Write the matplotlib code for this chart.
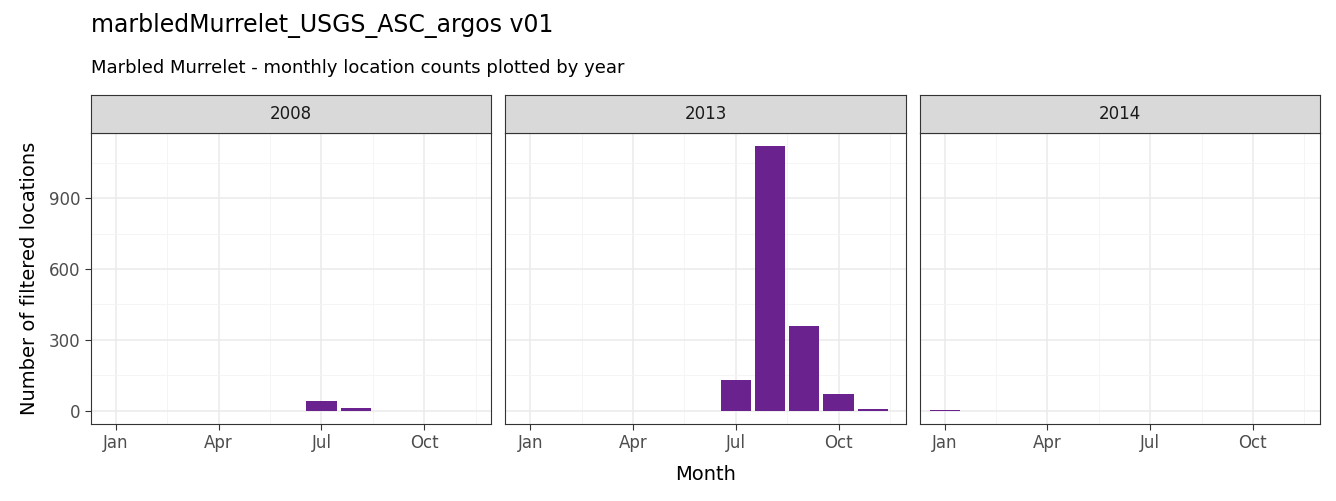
import matplotlib.pyplot as plt

years = ["2008", "2013", "2014"]
months = [1, 2, 3, 4, 5, 6, 7, 8, 9, 10, 11, 12]
counts = {
    "2008": [0, 0, 0, 0, 0, 0, 42, 12, 0, 0, 0, 0],
    "2013": [0, 0, 0, 0, 0, 0, 130, 1120, 360, 70, 8, 0],
    "2014": [3, 0, 0, 0, 0, 0, 0, 0, 0, 0, 0, 0],
}
tick_months = [1, 4, 7, 10]
tick_labels = ["Jan", "Apr", "Jul", "Oct"]
y_ticks = [0, 300, 600, 900]

fig = plt.figure(figsize=(13.36, 5.01), dpi=100)
left, right, bottom, top = 91 / 1336, 1320 / 1336, 1 - 424 / 501, 1 - 133 / 501
gap = 14 / 1336
w = (right - left - 2 * gap) / 3
strip_h = 38 / 501

for i, year in enumerate(years):
    x0 = left + i * (w + gap)
    ax = fig.add_axes([x0, bottom, w, top - bottom])
    vals = counts[year]
    ax.bar([m for m, v in zip(months, vals) if v > 0], [v for v in vals if v > 0],
           width=0.88, color="#6a228f", zorder=3)
    ax.set_xlim(0.27, 11.96)
    ax.set_ylim(-56, 1176)
    ax.set_xticks(tick_months)
    ax.set_xticklabels(tick_labels)
    ax.set_xticks([2.5, 5.5, 8.5, 11.5], minor=True)
    ax.set_yticks(y_ticks)
    ax.set_yticks([150, 450, 750, 1050], minor=True)
    ax.grid(which="major", color="#ebebeb", linewidth=1.1, zorder=0)
    ax.grid(which="minor", color="#f4f4f4", linewidth=0.6, zorder=0)
    ax.tick_params(which="minor", length=0)
    ax.tick_params(which="major", color="#333333", labelsize=12, labelcolor="#4d4d4d", length=4)
    if i > 0:
        ax.tick_params(axis="y", labelleft=False, length=0)
    for s in ax.spines.values():
        s.set_color("#333333")
    sax = fig.add_axes([x0, top, w, strip_h])
    sax.set_xticks([])
    sax.set_yticks([])
    sax.set_facecolor("#d9d9d9")
    for s in sax.spines.values():
        s.set_color("#333333")
    sax.text(0.5, 0.5, year, ha="center", va="center", fontsize=12, color="#1a1a1a")

fig.text(91 / 1336, 1 - 25 / 501, "marbledMurrelet_USGS_ASC_argos v01", fontsize=17, va="center")
fig.text(91 / 1336, 1 - 68 / 501, "Marbled Murrelet - monthly location counts plotted by year", fontsize=13, va="center")
fig.text((left + right) / 2, 1 - 474 / 501, "Month", fontsize=14, ha="center", va="center")
fig.text(30 / 1336, (bottom + top) / 2, "Number of filtered locations", fontsize=14, rotation=90,
         ha="center", va="center")

fig.savefig("out.png", dpi=100)
